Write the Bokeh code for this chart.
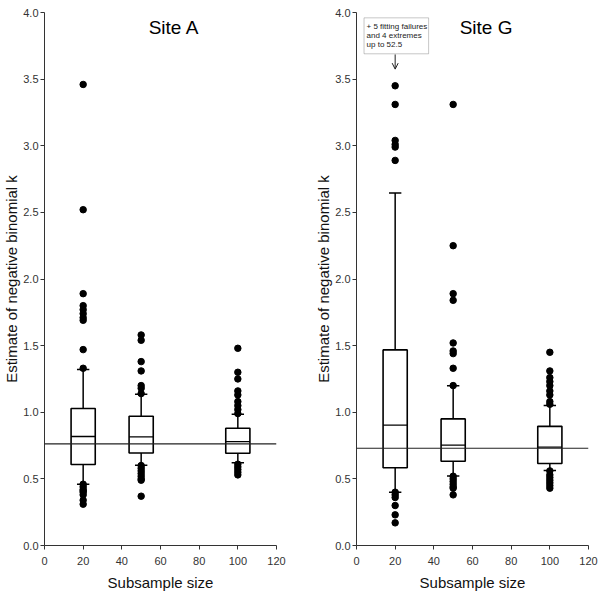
from bokeh.plotting import figure
from bokeh.layouts import row
from bokeh.models import (Span, Label, Arrow, OpenHead, BoxAnnotation, Range1d,
                          FixedTicker, CustomJSTickFormatter)
from bokeh.embed import file_html
from bokeh.resources import INLINE

# Subsample sizes shared by both sites
sizes = [20, 50, 100]

# Site A: box statistics per subsample size
a_low = [0.46, 0.603, 0.621]
a_q1 = [0.608, 0.694, 0.692]
a_med = [0.818, 0.815, 0.780]
a_q3 = [1.028, 0.970, 0.880]
a_high = [1.32, 1.135, 0.985]
a_true_k = 0.763
a_out_20 = [3.46, 2.52, 1.89, 1.80, 1.77, 1.74, 1.71, 1.69, 1.47, 1.33,
            0.46, 0.44, 0.42, 0.41, 0.40, 0.38, 0.34, 0.31]
a_out_50 = [1.58, 1.54, 1.38, 1.31, 1.20, 1.18, 1.14,
            0.60, 0.58, 0.56, 0.54, 0.52, 0.50, 0.49, 0.37]
a_out_100 = [1.48, 1.30, 1.25, 1.16, 1.13, 1.08, 1.05, 1.02, 0.99,
             0.61, 0.59, 0.57, 0.55, 0.53]

# Site G: box statistics per subsample size
g_low = [0.40, 0.522, 0.563]
g_q1 = [0.583, 0.632, 0.615]
g_med = [0.903, 0.753, 0.738]
g_q3 = [1.468, 0.950, 0.894]
g_high = [2.646, 1.198, 1.050]
g_true_k = 0.73
g_out_20 = [3.45, 3.31, 3.04, 3.01, 2.99, 2.89,
            0.40, 0.38, 0.36, 0.30, 0.23, 0.17]
g_out_50 = [3.31, 2.25, 1.89, 1.84, 1.52, 1.46, 1.44, 1.33, 1.20,
            0.52, 0.50, 0.48, 0.46, 0.44, 0.43, 0.38]
g_out_100 = [1.45, 1.31, 1.26, 1.23, 1.20, 1.16, 1.13, 1.08, 1.06,
             0.56, 0.53, 0.51, 0.49, 0.47, 0.45, 0.43]

x_ticks = [0, 20, 40, 60, 80, 100, 120]
y_ticks = [0.0, 0.5, 1.0, 1.5, 2.0, 2.5, 3.0, 3.5, 4.0]

FONT = "Liberation Sans"
BOX_W = 12.5
CAP_HALF = 3.2


def panel(title, low, q1, med, q3, high, outliers, true_k, border_right):
    p = figure(frame_width=232, frame_height=533, output_backend="svg",
               toolbar_location=None,
               x_range=Range1d(0, 120), y_range=Range1d(0, 4),
               min_border_left=43, min_border_right=border_right,
               min_border_top=12, min_border_bottom=49)
    p.outline_line_color = None
    p.grid.visible = False
    p.background_fill_color = "white"
    p.border_fill_color = "white"

    for ax in (p.xaxis[0], p.yaxis[0]):
        ax.axis_line_color = "#333333"
        ax.major_tick_line_color = "#333333"
        ax.major_tick_in = 0
        ax.major_tick_out = 4
        ax.minor_tick_line_color = None
        ax.major_label_text_font = FONT
        ax.major_label_text_font_size = "11px"
        ax.major_label_text_color = "#333333"
        ax.axis_label_text_font = FONT
        ax.axis_label_text_font_size = "15px"
        ax.axis_label_text_font_style = "normal"
        ax.axis_label_text_color = "#111111"

    p.xaxis.ticker = FixedTicker(ticks=x_ticks)
    p.yaxis.ticker = FixedTicker(ticks=y_ticks)
    p.yaxis.formatter = CustomJSTickFormatter(code="return tick.toFixed(1);")
    p.xaxis.axis_label = "Subsample size"
    p.yaxis.axis_label = "Estimate of negative binomial k"
    p.xaxis.major_label_standoff = 7
    p.xaxis.axis_label_standoff = 6
    p.yaxis.major_label_standoff = 2
    p.yaxis.axis_label_standoff = 0

    # reference value of k across the full plot width
    p.add_layout(Span(location=true_k, dimension="width", line_color="#222222",
                      line_width=1.2))

    # whiskers and caps
    p.segment(x0=sizes, y0=q3, x1=sizes, y1=high, line_color="black", line_width=1.5)
    p.segment(x0=sizes, y0=q1, x1=sizes, y1=low, line_color="black", line_width=1.5)
    p.segment(x0=[s - CAP_HALF for s in sizes], y0=high,
              x1=[s + CAP_HALF for s in sizes], y1=high, line_color="black", line_width=1.5)
    p.segment(x0=[s - CAP_HALF for s in sizes], y0=low,
              x1=[s + CAP_HALF for s in sizes], y1=low, line_color="black", line_width=1.5)

    # boxes and medians
    p.vbar(x=sizes, width=BOX_W, bottom=q1, top=q3, fill_color="white", fill_alpha=0,
           line_color="black", line_width=1.6)
    p.segment(x0=[s - BOX_W / 2 for s in sizes], y0=med,
              x1=[s + BOX_W / 2 for s in sizes], y1=med, line_color="black", line_width=1.3)

    # outlying estimates
    ox, oy = [], []
    for s, vals in zip(sizes, outliers):
        ox += [s] * len(vals)
        oy += vals
    p.scatter(x=ox, y=oy, size=6.5, color="black")

    p.add_layout(Label(x=67, y=3.885, text=title, text_align="center",
                       text_baseline="middle", text_font=FONT, text_font_size="19px",
                       text_color="black"))
    return p


left = panel("Site A", a_low, a_q1, a_med, a_q3, a_high,
             [a_out_20, a_out_50, a_out_100], a_true_k, border_right=36)
right = panel("Site G", g_low, g_q1, g_med, g_q3, g_high,
              [g_out_20, g_out_50, g_out_100], g_true_k, border_right=11)

# note on the estimates that fall off the Site G scale
right.add_layout(BoxAnnotation(left=3.9, right=37.3, bottom=3.69, top=3.96,
                               fill_color="white", fill_alpha=1,
                               line_color="#444444", line_width=1))
for txt, yy in zip(["+ 5 fitting failures", "and 4 extremes", "up to 52.5"],
                   [3.893, 3.825, 3.757]):
    right.add_layout(Label(x=5.2, y=yy, text=txt, text_align="left",
                           text_baseline="middle", text_font=FONT,
                           text_font_size="8px", text_color="#222222"))
right.add_layout(Arrow(end=OpenHead(size=6, line_width=1, line_color="#222222"),
                       x_start=20, y_start=3.685, x_end=20, y_end=3.575,
                       line_color="#222222", line_width=1))

layout = row(left, right)
open("out.html", "w").write(file_html(layout, INLINE))
